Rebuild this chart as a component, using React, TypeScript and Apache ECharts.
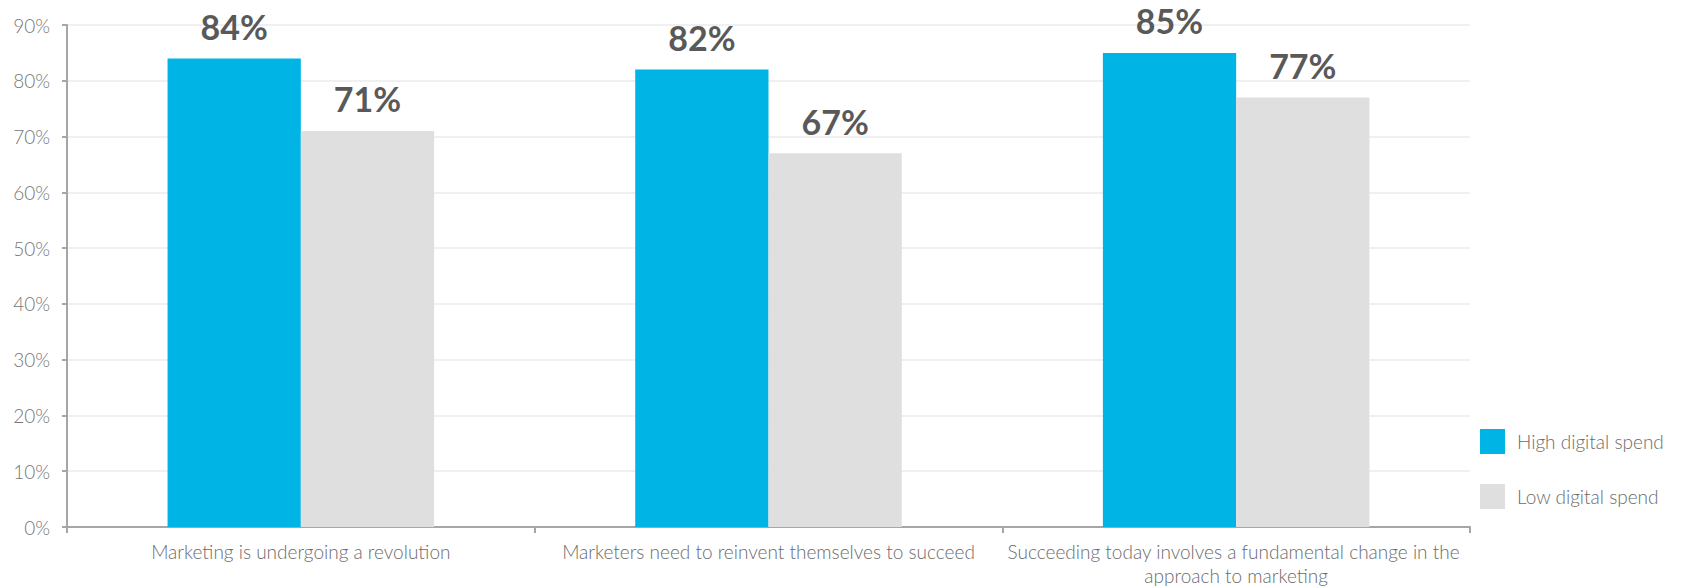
import React, { useEffect, useRef } from "react";
import * as echarts from "echarts";

const categories = [
  "Marketing is undergoing a revolution",
  "Marketers need to reinvent themselves to succeed",
  "Succeeding today involves a fundamental change in the approach to marketing",
];
const highDigital = [84, 82, 85];
const lowDigital = [71, 67, 77];
const seriesNames = ["High digital spend", "Low digital spend"];

const FONT = "Lato";

export default function App() {
  const ref = useRef<HTMLDivElement>(null);
  useEffect(() => {
    if (!ref.current) return;
    const chart = echarts.init(ref.current, null, { renderer: "svg" });
    const labelCfg = {
      show: true,
      position: "top",
      distance: 15,
      formatter: "{c}%",
      fontFamily: FONT,
      fontWeight: "bold",
      fontSize: 34,
      color: "#595959",
    };
    chart.setOption({
      animation: false,
      backgroundColor: "#ffffff",
      textStyle: { fontFamily: FONT },
      grid: { left: 67, right: 212, top: 25, bottom: 61, containLabel: false },
      legend: {
        orient: "vertical",
        left: 1475,
        top: 424,
        itemWidth: 25,
        itemHeight: 25,
        itemGap: 30,
        icon: "rect",
        data: seriesNames,
        textStyle: {
          fontFamily: FONT,
          fontWeight: 300,
          fontSize: 19,
          color: "#6b6b6b",
          padding: [0, 0, 0, 7],
        },
      },
      xAxis: {
        type: "category",
        data: categories,
        axisLine: { lineStyle: { color: "#a6a6a6", width: 2 } },
        axisTick: { show: true, length: 6, lineStyle: { color: "#a6a6a6", width: 2 } },
        axisLabel: {
          interval: 0,
          margin: 12,
          fontFamily: FONT,
          fontWeight: 300,
          fontSize: 19,
          lineHeight: 24,
          color: "#6b6b6b",
          width: 478,
          overflow: "break",
        },
      },
      yAxis: {
        type: "value",
        min: 0,
        max: 90,
        interval: 10,
        axisLine: { show: true, lineStyle: { color: "#a6a6a6", width: 2 } },
        axisTick: { show: true, length: 5, lineStyle: { color: "#a6a6a6", width: 2 } },
        splitLine: { lineStyle: { color: "#f0f0f0", width: 2 } },
        axisLabel: {
          formatter: "{value}%",
          margin: 17,
          fontFamily: FONT,
          fontWeight: 300,
          fontSize: 19,
          color: "#777777",
        },
      },
      series: [
        {
          name: seriesNames[0],
          type: "bar",
          data: highDigital,
          barGap: "0%",
          barCategoryGap: "43%",
          itemStyle: { color: "#00b5e5" },
          label: labelCfg,
        },
        {
          name: seriesNames[1],
          type: "bar",
          data: lowDigital,
          itemStyle: { color: "#dfdfdf" },
          label: labelCfg,
        },
      ],
    });
    return () => chart.dispose();
  }, []);
  return <div ref={ref} style={{ width: 1682, height: 588, position: "absolute", left: 0, top: 0 }} />;
}
